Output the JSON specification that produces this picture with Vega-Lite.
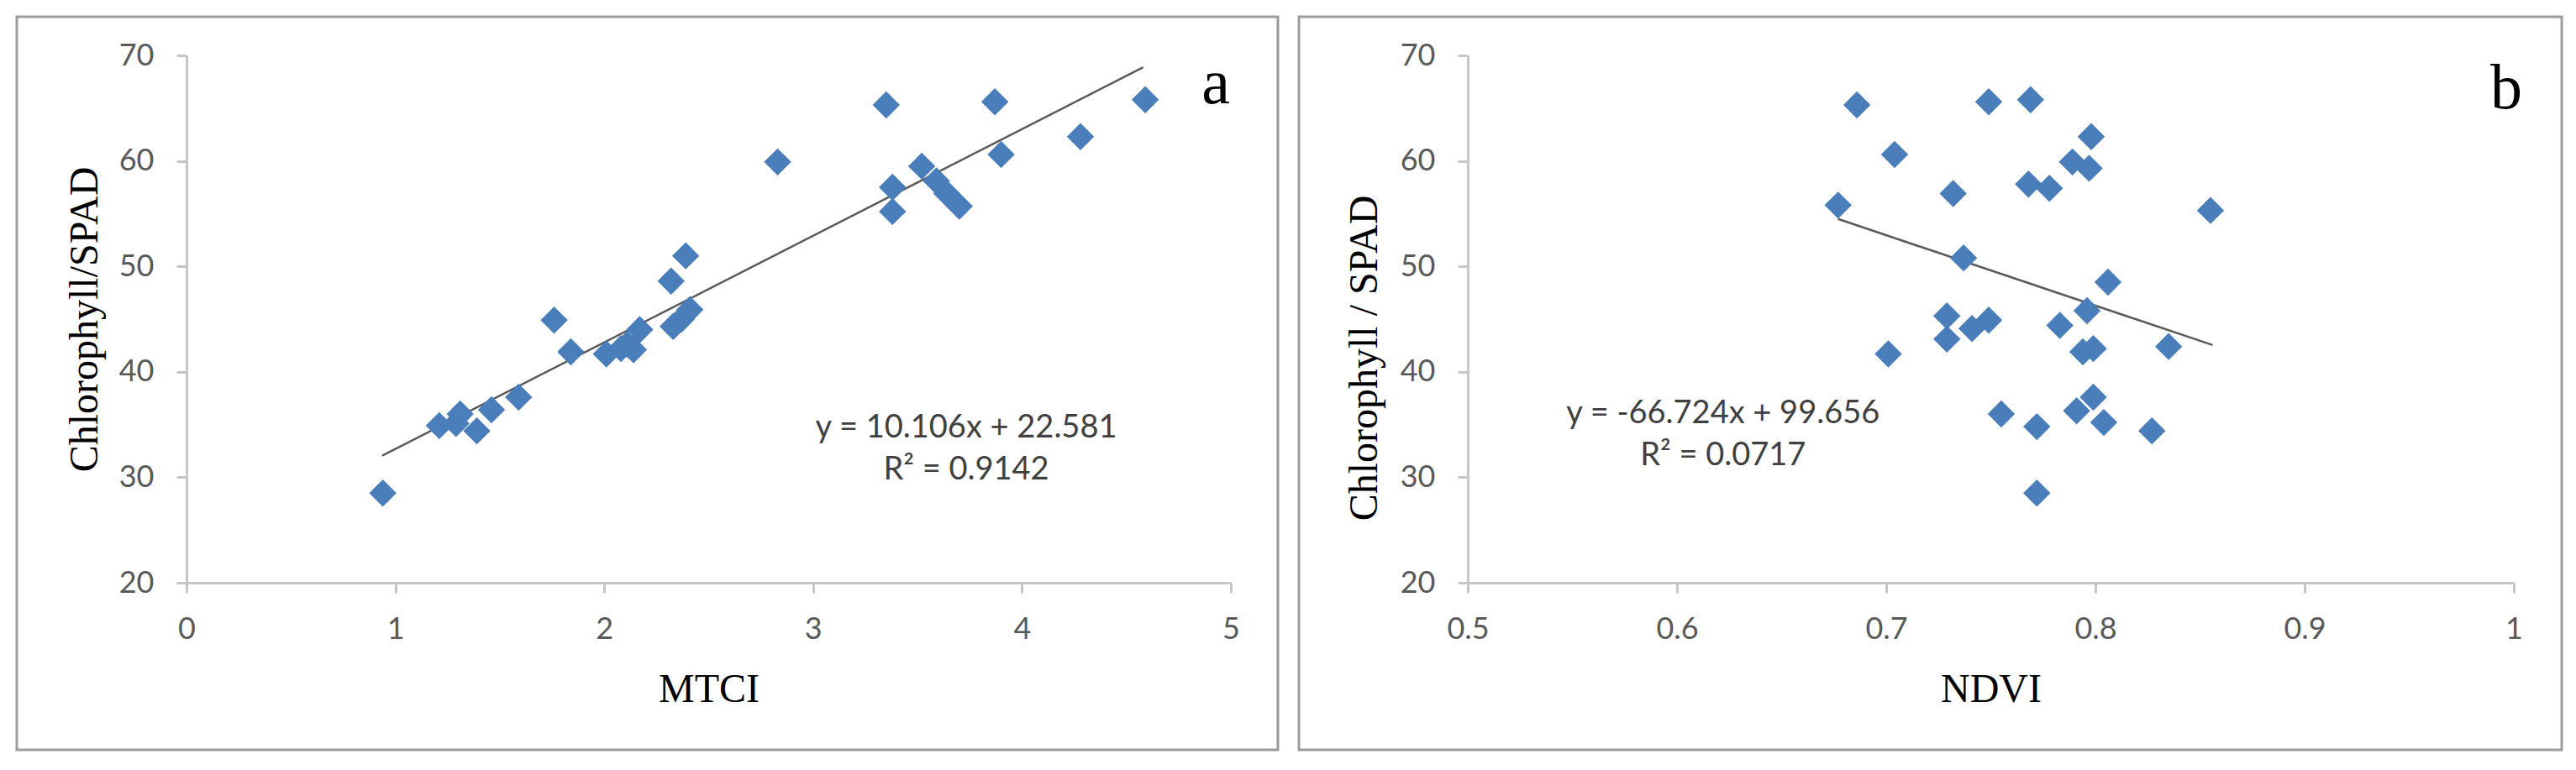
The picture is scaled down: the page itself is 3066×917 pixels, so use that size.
{
  "$schema": "https://vega.github.io/schema/vega-lite/v6.json",
  "padding": {"left": 18, "top": 18, "right": 5, "bottom": 5},
  "background": "white",
  "spacing": 21,
  "config": {
    "view": {"stroke": null},
    "axis": {
      "grid": false,
      "domainColor": "#c6c6c6",
      "domainWidth": 3,
      "tickColor": "#c6c6c6",
      "tickWidth": 3,
      "tickSize": 12,
      "labelFont": "Lato",
      "labelFontSize": 36,
      "labelColor": "#595959",
      "labelFlush": false,
      "titleFont": "Liberation Serif",
      "titleFontWeight": "normal",
      "titleColor": "#000000",
      "titleFontSize": 48
    }
  },
  "datasets": {
    "a": [
      {"MTCI": 0.94, "SPAD": 28.5},
      {"MTCI": 1.21, "SPAD": 34.9},
      {"MTCI": 1.29, "SPAD": 35.1},
      {"MTCI": 1.31, "SPAD": 36.0},
      {"MTCI": 1.39, "SPAD": 34.4},
      {"MTCI": 1.46, "SPAD": 36.4},
      {"MTCI": 1.59, "SPAD": 37.6},
      {"MTCI": 1.76, "SPAD": 44.9},
      {"MTCI": 1.84, "SPAD": 41.9},
      {"MTCI": 2.01, "SPAD": 41.7},
      {"MTCI": 2.08, "SPAD": 42.2},
      {"MTCI": 2.11, "SPAD": 42.6},
      {"MTCI": 2.14, "SPAD": 42.1},
      {"MTCI": 2.17, "SPAD": 44.0},
      {"MTCI": 2.33, "SPAD": 44.3},
      {"MTCI": 2.37, "SPAD": 45.0},
      {"MTCI": 2.41, "SPAD": 45.9},
      {"MTCI": 2.32, "SPAD": 48.6},
      {"MTCI": 2.39, "SPAD": 51.0},
      {"MTCI": 2.83, "SPAD": 59.9},
      {"MTCI": 3.35, "SPAD": 65.3},
      {"MTCI": 3.38, "SPAD": 57.5},
      {"MTCI": 3.38, "SPAD": 55.2},
      {"MTCI": 3.52, "SPAD": 59.5},
      {"MTCI": 3.59, "SPAD": 58.1},
      {"MTCI": 3.64, "SPAD": 56.9},
      {"MTCI": 3.70, "SPAD": 55.7},
      {"MTCI": 3.87, "SPAD": 65.6},
      {"MTCI": 3.90, "SPAD": 60.6},
      {"MTCI": 4.28, "SPAD": 62.3},
      {"MTCI": 4.59, "SPAD": 65.8}
    ],
    "b": [
      {"NDVI": 0.686, "SPAD": 65.3},
      {"NDVI": 0.749, "SPAD": 65.6},
      {"NDVI": 0.769, "SPAD": 65.8},
      {"NDVI": 0.704, "SPAD": 60.6},
      {"NDVI": 0.677, "SPAD": 55.8},
      {"NDVI": 0.732, "SPAD": 56.9},
      {"NDVI": 0.768, "SPAD": 57.8},
      {"NDVI": 0.778, "SPAD": 57.4},
      {"NDVI": 0.737, "SPAD": 50.8},
      {"NDVI": 0.798, "SPAD": 62.3},
      {"NDVI": 0.789, "SPAD": 59.9},
      {"NDVI": 0.797, "SPAD": 59.3},
      {"NDVI": 0.855, "SPAD": 55.3},
      {"NDVI": 0.806, "SPAD": 48.5},
      {"NDVI": 0.796, "SPAD": 45.8},
      {"NDVI": 0.783, "SPAD": 44.4},
      {"NDVI": 0.729, "SPAD": 45.3},
      {"NDVI": 0.749, "SPAD": 44.9},
      {"NDVI": 0.741, "SPAD": 44.1},
      {"NDVI": 0.729, "SPAD": 43.1},
      {"NDVI": 0.701, "SPAD": 41.7},
      {"NDVI": 0.794, "SPAD": 41.9},
      {"NDVI": 0.799, "SPAD": 42.2},
      {"NDVI": 0.835, "SPAD": 42.4},
      {"NDVI": 0.799, "SPAD": 37.6},
      {"NDVI": 0.791, "SPAD": 36.3},
      {"NDVI": 0.755, "SPAD": 36.0},
      {"NDVI": 0.772, "SPAD": 34.8},
      {"NDVI": 0.804, "SPAD": 35.2},
      {"NDVI": 0.827, "SPAD": 34.4},
      {"NDVI": 0.772, "SPAD": 28.5}
    ],
    "lineA": [
      {"MTCI": 0.937, "SPAD": 32.05},
      {"MTCI": 4.58, "SPAD": 68.87}
    ],
    "lineB": [
      {"NDVI": 0.677, "SPAD": 54.49},
      {"NDVI": 0.856, "SPAD": 42.54}
    ]
  },
  "hconcat": [
    {
      "width": 1243,
      "height": 628,
      "layer": [
        {
          "data": {"values": [{}]},
          "mark": {"type": "rect", "fill": null, "stroke": "#9c9c9c", "strokeWidth": 3, "clip": false},
          "encoding": {
            "x": {"datum": -0.8125, "type": "quantitative", "scale": {"domain": [0, 5], "nice": false, "zero": false}},
            "x2": {"datum": 5.225},
            "y": {"datum": 73.66, "type": "quantitative", "scale": {"domain": [20, 70], "nice": false, "zero": false}},
            "y2": {"datum": 4.16}
          }
        },
        {
          "data": {"name": "lineA"},
          "mark": {"type": "line", "color": "#5a5a5a", "strokeWidth": 2.5},
          "encoding": {
            "x": {"field": "MTCI", "type": "quantitative"},
            "y": {"field": "SPAD", "type": "quantitative"}
          }
        },
        {
          "data": {"name": "a"},
          "mark": {"type": "point", "shape": "diamond", "filled": true, "size": 1050, "color": "#4a7ebb", "opacity": 1},
          "encoding": {
            "x": {"field": "MTCI", "type": "quantitative", "scale": {"domain": [0, 5], "nice": false, "zero": false},
                  "axis": {"values": [0, 1, 2, 3, 4, 5], "format": "~g", "title": "MTCI", "labelPadding": 26, "titlePadding": 30}},
            "y": {"field": "SPAD", "type": "quantitative", "scale": {"domain": [20, 70], "nice": false, "zero": false},
                  "axis": {"values": [20, 30, 40, 50, 60, 70], "title": "Chlorophyll/SPAD", "labelPadding": 27, "titlePadding": 16}}
          }
        },
        {
          "data": {"values": [{}]},
          "mark": {"type": "text", "font": "Lato", "fontSize": 38, "color": "#404040", "align": "center", "baseline": "middle", "lineHeight": 50},
          "encoding": {
            "x": {"datum": 3.733, "type": "quantitative"},
            "y": {"datum": 34.65, "type": "quantitative"},
            "text": {"value": ["y = 10.106x + 22.581", "R² = 0.9142"]}
          }
        },
        {
          "data": {"values": [{}]},
          "mark": {"type": "text", "font": "Liberation Serif", "fontSize": 76, "color": "#000000", "align": "center", "baseline": "alphabetic"},
          "encoding": {
            "x": {"datum": 4.928, "type": "quantitative"},
            "y": {"datum": 65.45, "type": "quantitative"},
            "text": {"value": "a"}
          }
        }
      ]
    },
    {
      "width": 1245,
      "height": 628,
      "layer": [
        {
          "data": {"values": [{}]},
          "mark": {"type": "rect", "fill": null, "stroke": "#9c9c9c", "strokeWidth": 3, "clip": false},
          "encoding": {
            "x": {"datum": 0.4193, "type": "quantitative", "scale": {"domain": [0.5, 1], "nice": false, "zero": false}},
            "x2": {"datum": 1.0229},
            "y": {"datum": 73.66, "type": "quantitative", "scale": {"domain": [20, 70], "nice": false, "zero": false}},
            "y2": {"datum": 4.16}
          }
        },
        {
          "data": {"name": "lineB"},
          "mark": {"type": "line", "color": "#5a5a5a", "strokeWidth": 2.5},
          "encoding": {
            "x": {"field": "NDVI", "type": "quantitative"},
            "y": {"field": "SPAD", "type": "quantitative"}
          }
        },
        {
          "data": {"name": "b"},
          "mark": {"type": "point", "shape": "diamond", "filled": true, "size": 1050, "color": "#4a7ebb", "opacity": 1},
          "encoding": {
            "x": {"field": "NDVI", "type": "quantitative", "scale": {"domain": [0.5, 1], "nice": false, "zero": false},
                  "axis": {"values": [0.5, 0.6, 0.7, 0.8, 0.9, 1], "format": "~g", "title": "NDVI", "labelPadding": 26, "titlePadding": 30}},
            "y": {"field": "SPAD", "type": "quantitative", "scale": {"domain": [20, 70], "nice": false, "zero": false},
                  "axis": {"values": [20, 30, 40, 50, 60, 70], "title": "Chlorophyll / SPAD", "labelPadding": 27, "titlePadding": 18, "titleY": 360}}
          }
        },
        {
          "data": {"values": [{}]},
          "mark": {"type": "text", "font": "Lato", "fontSize": 38, "color": "#404040", "align": "center", "baseline": "middle", "lineHeight": 50},
          "encoding": {
            "x": {"datum": 0.622, "type": "quantitative"},
            "y": {"datum": 36.0, "type": "quantitative"},
            "text": {"value": ["y = -66.724x + 99.656", "R² = 0.0717"]}
          }
        },
        {
          "data": {"values": [{}]},
          "mark": {"type": "text", "font": "Liberation Serif", "fontSize": 76, "color": "#000000", "align": "center", "baseline": "alphabetic"},
          "encoding": {
            "x": {"datum": 0.9964, "type": "quantitative"},
            "y": {"datum": 65.0, "type": "quantitative"},
            "text": {"value": "b"}
          }
        }
      ]
    }
  ]
}
